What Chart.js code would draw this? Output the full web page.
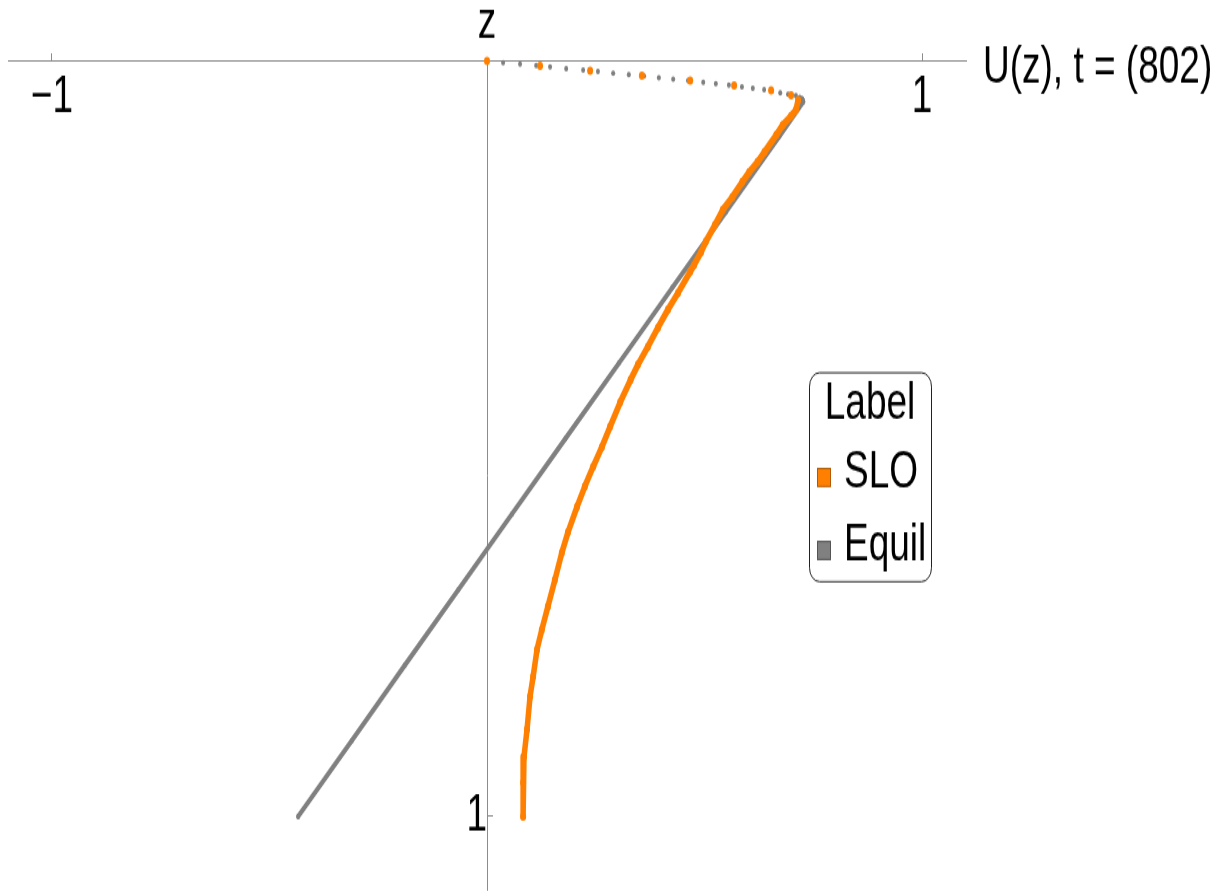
<!DOCTYPE html>
<html>
<head>
<meta charset="utf-8">
<script src="https://cdn.jsdelivr.net/npm/chart.js@4/dist/chart.umd.min.js"></script>
<style>
  html, body { margin: 0; padding: 0; background: #ffffff; }
  body { width: 1225px; height: 895px; }
  #wrap { width: 1225px; height: 639px; transform: scaleY(1.4006); transform-origin: 0 0; }
  canvas { display: block; }
</style>
</head>
<body>
<div id="wrap"><canvas id="chart" width="1225" height="639"></canvas></div>
<script>
// Velocity profiles U(z): depth z (0 at the surface, 1 at the bottom) and velocity U.
const sloDepth = [
  0, 0.0065, 0.013, 0.0195, 0.026, 0.0325, 0.039, 0.0455, 0.052,
  0.0648, 0.0728, 0.0847, 0.0979, 0.1204, 0.1336, 0.1468, 0.160, 0.180, 0.197,
  0.217, 0.239, 0.253, 0.270, 0.279, 0.307, 0.329, 0.353, 0.378, 0.402, 0.422,
  0.452, 0.484, 0.511, 0.537, 0.563, 0.590, 0.624, 0.651, 0.687, 0.722, 0.753,
  0.779, 0.815, 0.841, 0.885, 0.921, 0.955, 1.0
];
const sloU = [
  0, 0.122, 0.237, 0.356, 0.467, 0.568, 0.653, 0.699, 0.715,
  0.710, 0.699, 0.680, 0.665, 0.638, 0.622, 0.603, 0.587, 0.564, 0.542,
  0.524, 0.503, 0.492, 0.476, 0.467, 0.439, 0.416, 0.393, 0.370, 0.347, 0.330,
  0.306, 0.283, 0.264, 0.244, 0.225, 0.207, 0.186, 0.172, 0.156, 0.140, 0.126,
  0.115, 0.106, 0.099, 0.092, 0.085, 0.083, 0.083
];
const equilDepth = [
  0, 0.002, 0.004, 0.006, 0.008, 0.010, 0.012, 0.014, 0.016, 0.018,
  0.020, 0.022, 0.024, 0.026, 0.028, 0.030, 0.032, 0.034, 0.036, 0.038,
  0.040, 0.042, 0.044, 0.046, 0.048, 0.050, 0.052,
  0.054, 0.1, 0.2, 0.3, 0.4, 0.5, 0.6, 0.7, 0.8, 0.9, 1.0
];
const equilU = [
  0, 0.037, 0.076, 0.113, 0.145, 0.182, 0.221, 0.255, 0.290, 0.326,
  0.361, 0.395, 0.428, 0.462, 0.497, 0.526, 0.556, 0.586, 0.611, 0.637,
  0.655, 0.674, 0.692, 0.710, 0.719, 0.724, 0.726,
  0.727, 0.672, 0.549, 0.426, 0.303, 0.180, 0.057, -0.066, -0.189, -0.311, -0.434
];
const seriesNames = ['SLO', 'Equil'];
const xTickValues = [-1, 1];
const xTickLabels = ['\u22121', '1'];
const zTickValues = [1];
const zTickLabels = ['1'];
const xTitle = 'U(z), t = (802)';
const zTitle = 'z';
const legendTitle = 'Label';

const ORANGE = '#ff8000';
const ORANGE_EDGE = '#b35a00';
const GRAY = '#808080';
const GRAY_EDGE = '#555555';
const AXIS = '#8c8c8c';
const FONT = '"Liberation Sans", Arial, sans-serif';
const LINE_FROM = 0.05; // below this depth the samples are shown as separate dots

const toPoints = (us, zs) => us.map((u, i) => ({ x: u, y: zs[i] }));

// axes sit inside the plot, so they must not push the plot edges inward
const noScalePadding = s => {
  s.paddingTop = 0; s.paddingBottom = 0; s.paddingLeft = 0; s.paddingRight = 0;
};

const profilePlugin = {
  id: 'profileDecor',
  afterDraw(chart) {
    const { ctx, chartArea, scales } = chart;
    const x0 = scales.x.getPixelForValue(0);
    const z0 = scales.y.getPixelForValue(0);
    ctx.save();
    ctx.fillStyle = '#000';
    ctx.font = '37px ' + FONT;
    ctx.textBaseline = 'alphabetic';
    // axis titles
    ctx.textAlign = 'center';
    ctx.fillText(zTitle, x0, z0 - 16.4);
    ctx.textAlign = 'left';
    ctx.fillText(xTitle, chartArea.right + 17, z0 + 15.7);

    // legend box
    const bx = 809, by = 265.6, bw = 122, bh = 149.2, r = 10;
    ctx.beginPath();
    ctx.roundRect(bx + 0.5, by + 0.5, bw, bh, r);
    ctx.fillStyle = '#ffffff';
    ctx.fill();
    ctx.lineWidth = 1;
    ctx.strokeStyle = '#222';
    ctx.stroke();
    ctx.fillStyle = '#000';
    ctx.textAlign = 'center';
    ctx.fillText(legendTitle, bx + bw / 2, 299.2);
    chart.data.datasets.forEach((ds, i) => {
      const base = 347.7 + i * 52.1;
      ctx.fillStyle = ds.backgroundColor;
      ctx.strokeStyle = ds.swatchEdge;
      ctx.fillRect(817.5, base - 13.2, 13, 12.8);
      ctx.strokeRect(817.5, base - 13.2, 13, 12.8);
      ctx.fillStyle = '#000';
      ctx.textAlign = 'left';
      ctx.fillText(ds.label, 844, base);
    });
    ctx.restore();
  }
};

const lineSegment = color => ({
  borderColor: c => (c.p0.parsed.y >= LINE_FROM ? color : 'rgba(0,0,0,0)')
});

new Chart(document.getElementById('chart'), {
  type: 'scatter',
  data: {
    datasets: [
      {
        label: seriesNames[0],
        data: toPoints(sloU, sloDepth),
        showLine: true,
        borderColor: ORANGE,
        backgroundColor: ORANGE,
        swatchEdge: ORANGE_EDGE,
        borderWidth: 5.5,
        borderCapStyle: 'round',
        borderJoinStyle: 'round',
        pointRadius: 3,
        pointBorderWidth: 0,
        pointBackgroundColor: ORANGE,
        segment: lineSegment(ORANGE),
        clip: false
      },
      {
        label: seriesNames[1],
        data: toPoints(equilU, equilDepth),
        showLine: true,
        borderColor: GRAY,
        backgroundColor: GRAY,
        swatchEdge: GRAY_EDGE,
        borderWidth: 4,
        borderCapStyle: 'round',
        borderJoinStyle: 'round',
        pointRadius: 2,
        pointBorderWidth: 0,
        pointBackgroundColor: GRAY,
        segment: lineSegment(GRAY),
        clip: false
      }
    ]
  },
  options: {
    responsive: false,
    animation: false,
    devicePixelRatio: 1,
    layout: { padding: { left: 8, right: 259, top: 43.55, bottom: 3.6 } },
    plugins: { legend: { display: false }, tooltip: { enabled: false } },
    events: [],
    scales: {
      x: {
        type: 'linear',
        position: { y: 0 },
        min: -1.101,
        max: 1.101,
        afterBuildTicks: s => { s.ticks = xTickValues.map(v => ({ value: v })); },
        afterFit: noScalePadding,
        ticks: {
          callback: v => xTickLabels[xTickValues.indexOf(v)],
          color: '#000',
          font: { family: FONT, size: 37 },
          padding: 9.75,
          maxRotation: 0,
          autoSkip: false
        },
        grid: { display: true, drawOnChartArea: false, drawTicks: true, tickLength: -6, color: AXIS, tickWidth: 1 },
        border: { display: true, color: AXIS, width: 1 }
      },
      y: {
        type: 'linear',
        position: { x: 0 },
        reverse: true,
        min: 0,
        max: 1.0966,
        afterBuildTicks: s => { s.ticks = zTickValues.map(v => ({ value: v })); },
        afterFit: noScalePadding,
        ticks: {
          callback: v => zTickLabels[zTickValues.indexOf(v)],
          color: '#000',
          font: { family: FONT, size: 37 },
          autoSkip: false
        },
        grid: { display: true, drawOnChartArea: false, drawTicks: true, tickLength: -6, color: AXIS, tickWidth: 1 },
        border: { display: true, color: AXIS, width: 1 }
      }
    }
  },
  plugins: [profilePlugin]
});
</script>
</body>
</html>
